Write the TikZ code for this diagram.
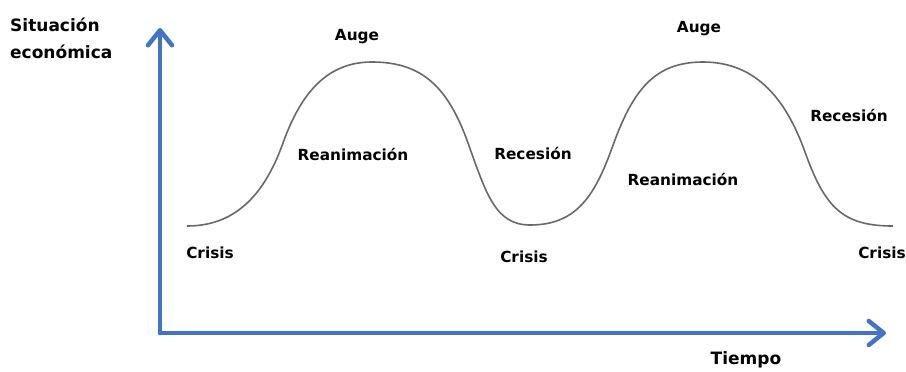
\documentclass[tikz,border=0pt]{standalone}
\usepackage{fontspec}
\setmainfont{DejaVu Sans}
\usetikzlibrary{arrows.meta}
\definecolor{axisblue}{RGB}{68,114,196}
\definecolor{curvegray}{RGB}{105,105,105}
\tikzset{
  axisline/.style={draw=axisblue, line width=4.5pt, line cap=round, line join=round,
    -{Straight Barb[length=15pt,width=24pt,round]}},
  curveline/.style={draw=curvegray, line width=1.6pt},
  lbl/.style={font=\fontsize{15.3}{18}\selectfont\bfseries, inner sep=0pt, anchor=base},
  biglbl/.style={font=\fontsize{17}{26}\selectfont\bfseries, inner sep=0pt, anchor=base},
}
\begin{document}
\begin{tikzpicture}[x=1pt,y=-1pt]
\useasboundingbox (0,0) rectangle (906,372);
\coordinate (origin) at (160,333);
\coordinate (ytip) at (160,28);
\coordinate (xtip) at (886,333);
\draw[axisline] (origin) -- (ytip);
\draw[axisline] (origin) -- (xtip);
\draw[curveline] (187,226)
  .. controls +(45,0) and +(-20,56) .. (283,143)
  .. controls +(18,-50) and +(-45,0) .. (372,62)
  .. controls +(50,0) and +(-20,-56) .. (468,143)
  .. controls +(18,50) and +(-35,0) .. (530,225)
  .. controls +(45,0) and +(-18,50) .. (612,148)
  .. controls +(20,-56) and +(-50,0) .. (703,62)
  .. controls +(55,0) and +(-18,-50) .. (805,152)
  .. controls +(20,56) and +(-50,0) .. (893,226);
\node[biglbl, anchor=base west] (sit) at (10,31) {Situación};
\node[biglbl, anchor=base west] (eco) at (10,58) {económica};
\node[biglbl] (tiempo) at (746,364) {Tiempo};
\node[lbl] (auge1) at (357,41) {Auge};
\node[lbl] (auge2) at (699,32) {Auge};
\node[lbl] (rean1) at (353,160) {Reanimación};
\node[lbl] (rean2) at (683,185) {Reanimación};
\node[lbl] (rec1) at (533,159) {Recesión};
\node[lbl] (rec2) at (849,121) {Recesión};
\node[lbl] (cri1) at (210,258) {Crisis};
\node[lbl] (cri2) at (524,262) {Crisis};
\node[lbl] (cri3) at (882,258) {Crisis};
\end{tikzpicture}
\end{document}
